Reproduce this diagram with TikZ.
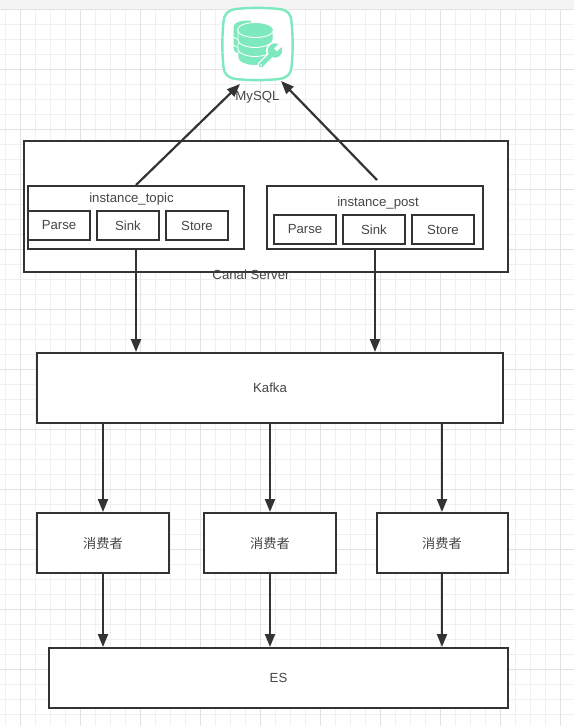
\documentclass[tikz,border=0pt]{standalone}
\usepackage{fontspec}
\setmainfont{Liberation Sans}
\newfontfamily\cjk{Noto Sans CJK SC}
\usepackage{xcolor}
\usetikzlibrary{arrows.meta, positioning, calc}
\definecolor{inkgray}{RGB}{51,51,51}
\definecolor{textgray}{RGB}{70,70,70}
\definecolor{mintgreen}{RGB}{126,232,190}
\definecolor{gridminor}{RGB}{240,240,240}
\definecolor{gridmajor}{RGB}{226,226,226}
\definecolor{topbar}{RGB}{244,244,244}
\begin{document}
\begin{tikzpicture}[
  x=1pt, y=-1pt,
  box/.style={rectangle, draw=inkgray, fill=white, line width=2pt, inner sep=0pt,
              font=\fontsize{13.2}{15}\selectfont, text=textgray, align=center},
  part/.style={box, minimum width=62pt, minimum height=29pt},
  consumer/.style={box, minimum width=132pt, minimum height=60pt},
  lbl/.style={font=\fontsize{13.2}{15}\selectfont, text=textgray, inner sep=0pt},
  arr/.style={-{Triangle[length=13pt,width=10pt]}, line width=2.2pt, draw=inkgray},
  band/.style={fill=mintgreen, draw=white, line width=0.9pt},
]
  \useasboundingbox (0,0) rectangle (574,726);
  \fill[white] (0,0) rectangle (574,726);

  % Paper grid
  \foreach \gx in {5,20,...,575}
    \draw[gridminor, line width=1pt] (\gx,10) -- (\gx,726);
  \foreach \gy in {9.5,24.5,...,726}
    \draw[gridminor, line width=1pt] (0,\gy) -- (574,\gy);
  \foreach \gx in {20,80,...,575}
    \draw[gridmajor, line width=1pt] (\gx,10) -- (\gx,726);
  \foreach \gy in {9.5,69.5,...,726}
    \draw[gridmajor, line width=1pt] (0,\gy) -- (574,\gy);
  \fill[topbar] (0,0) rectangle (574,9);

  % Server frame
  \node[box, minimum width=484pt, minimum height=131pt] (canal) at (266,206.5) {};
  \node[lbl] (canallbl) at (251,274.5) {Canal Server};

  \node[box, minimum width=216pt, minimum height=63pt] (topic) at (136,217.5) {};
  \node[lbl] (topiclbl) at (131.5,199) {instance\_topic};
  \node[part] (tparse) at (59,225.5)  {Parse};
  \node[part] (tsink)  at (128,225.5) {Sink};
  \node[part] (tstore) at (197,225.5) {Store};

  \node[box, minimum width=216pt, minimum height=63pt] (post) at (375,217.5) {};
  \node[lbl] (postlbl) at (378,203) {instance\_post};
  \node[part] (pparse) at (305,229.5) {Parse};
  \node[part] (psink)  at (374,229.5) {Sink};
  \node[part] (pstore) at (443,229.5) {Store};

  \node[box, minimum width=466pt, minimum height=70pt] (kafka) at (270,388) {Kafka};

  \node[consumer] (ca) at (103,543) {{\cjk 消费者}};
  \node[consumer] (cb) at (270,543) {{\cjk 消费者}};
  \node[consumer, minimum width=131pt] (cc) at (442,543) {{\cjk 消费者}};

  \node[box, minimum width=459pt, minimum height=60pt] (es) at (278.5,678) {ES};

  % MySQL icon
  \draw[mintgreen, line width=2.4pt, fill=white]
    (236,9) .. controls (250,7.5) and (265,7.5) .. (279,9)
    .. controls (288,10) and (291,14) .. (291.5,22)
    .. controls (293,35) and (293,55) .. (291.5,67)
    .. controls (291,74) and (287,78) .. (279,79)
    .. controls (265,80.5) and (250,80.5) .. (236,79)
    .. controls (228,78) and (224,74) .. (223.5,67)
    .. controls (222,55) and (222,35) .. (223.5,22)
    .. controls (224,14) and (228,10) .. (236,9) -- cycle;
  % rear drum
  \fill[mintgreen] (233.5,27) .. controls (233.5,22) and (241,20.5) .. (250,20.5)
    -- (254,24) -- (240,30) -- (240,54) .. controls (236,53) and (233.5,51) .. (233.5,49) -- cycle;
  \draw[white, line width=0.8pt] (233,37) -- (239,40);
  \draw[white, line width=0.8pt] (233,45) -- (239,48);
  % front drum
  \draw[band] (238,52) -- (238,58) .. controls (238,62) and (246,65.5) .. (255,65.5)
    .. controls (264,65.5) and (273,62) .. (273,58) -- (273,52) -- cycle;
  \draw[band] (238,43) -- (238,49) .. controls (238,53) and (246,56.5) .. (255,56.5)
    .. controls (264,56.5) and (273,53) .. (273,49) -- (273,43) -- cycle;
  \draw[band] (238,30) -- (238,40) .. controls (238,44) and (246,47.5) .. (255,47.5)
    .. controls (264,47.5) and (273,44) .. (273,40) -- (273,30) -- cycle;
  \draw[band] (255.5,30) ellipse (18pt and 7.5pt);
  % wrench
  \draw[white, line width=7pt, line cap=round] (261,65) -- (273,53);
  \fill[white] (275,50.5) circle (9pt);
  \draw[mintgreen, line width=4.6pt, line cap=round] (261,65) -- (273,53);
  \fill[mintgreen] (275,50.5) circle (7.2pt);
  \draw[white, line width=4pt] (275.5,50) -- (284,41.5);
  \fill[white] (261,65) circle (1pt);

  \node[lbl] (mysql) at (257.5,97) {MySQL};
  \coordinate (mysqlL) at (240,84);
  \coordinate (mysqlR) at (281,81);

  \draw[arr] (topic.north) -- (mysqlL);
  \draw[arr] ($(post.north)+(2,-5)$) -- (mysqlR);
  \draw[arr] (topic.south) -- (topic.south |- kafka.north);
  \draw[arr] (post.south) -- (post.south |- kafka.north);
  \draw[arr] (ca.north |- kafka.south) -- (ca.north);
  \draw[arr] (cb.north |- kafka.south) -- (cb.north);
  \draw[arr] (cc.north |- kafka.south) -- (cc.north);
  \draw[arr] (ca.south) -- (ca.south |- es.north);
  \draw[arr] (cb.south) -- (cb.south |- es.north);
  \draw[arr] (cc.south) -- (cc.south |- es.north);
\end{tikzpicture}
\end{document}
